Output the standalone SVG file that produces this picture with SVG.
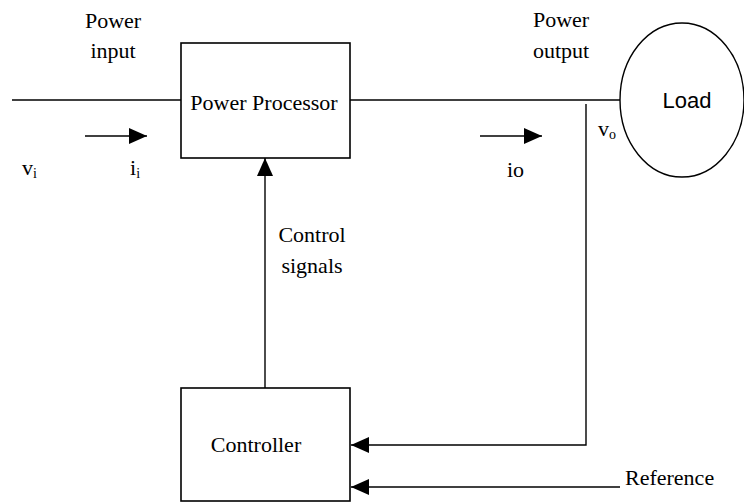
<svg xmlns="http://www.w3.org/2000/svg" width="744" height="504" viewBox="0 0 744 504">
<style>
.ln{stroke:#000;stroke-width:1.4;fill:none}
.box{stroke:#000;stroke-width:1.6;fill:#fff}
.t{font-family:"Liberation Serif","Times New Roman",serif;font-size:22px;fill:#000}
.s{font-family:"Liberation Sans",Arial,sans-serif;font-size:22px;fill:#000}
.sub{font-size:14px}
</style>
<defs>
<marker id="ah" markerUnits="userSpaceOnUse" markerWidth="18" markerHeight="16" refX="18" refY="8" orient="auto">
<path d="M0,0 L18,8 L0,16 Z" fill="#000"/>
</marker>
</defs>
<rect width="744" height="504" fill="#fff"/>
<g id="connectors">
<line class="ln" x1="12" y1="100" x2="181" y2="100"/>
<line class="ln" x1="350" y1="100" x2="620" y2="100"/>
<line class="ln" x1="85" y1="136" x2="147" y2="136" marker-end="url(#ah)"/>
<line class="ln" x1="480" y1="136" x2="542" y2="136" marker-end="url(#ah)"/>
<line class="ln" x1="265" y1="388" x2="265" y2="158" marker-end="url(#ah)"/>
<polyline class="ln" points="586,104 586,445 351,445" marker-end="url(#ah)"/>
<line class="ln" x1="620" y1="487" x2="351" y2="487" marker-end="url(#ah)"/>
</g>
<g id="power-processor">
<rect class="box" x="181" y="43" width="169" height="115"/>
<text class="t" x="264" y="110" text-anchor="middle">Power Processor</text>
</g>
<g id="controller">
<rect class="box" x="181" y="388" width="169" height="113"/>
<text class="t" x="256" y="452" text-anchor="middle">Controller</text>
</g>
<g id="load">
<ellipse cx="682" cy="100" rx="62" ry="77" fill="#fff" stroke="#000" stroke-width="1.4"/>
<text class="s" x="687" y="108" text-anchor="middle">Load</text>
</g>
<g id="labels">
<text class="t" x="113" y="28" text-anchor="middle">Power</text>
<text class="t" x="113" y="58" text-anchor="middle">input</text>
<text class="t" x="561" y="27" text-anchor="middle">Power</text>
<text class="t" x="561" y="58" text-anchor="middle">output</text>
<text class="t" x="22" y="175">v<tspan class="sub" dy="3">i</tspan></text>
<text class="t" x="130" y="175">i<tspan class="sub" dy="3">i</tspan></text>
<text class="t" x="507" y="177">io</text>
<text class="t" x="598" y="136">v<tspan class="sub" dy="3">o</tspan></text>
<text class="t" x="312" y="242" text-anchor="middle">Control</text>
<text class="t" x="312" y="273" text-anchor="middle">signals</text>
<text class="t" x="625" y="485">Reference</text>
</g>
</svg>
